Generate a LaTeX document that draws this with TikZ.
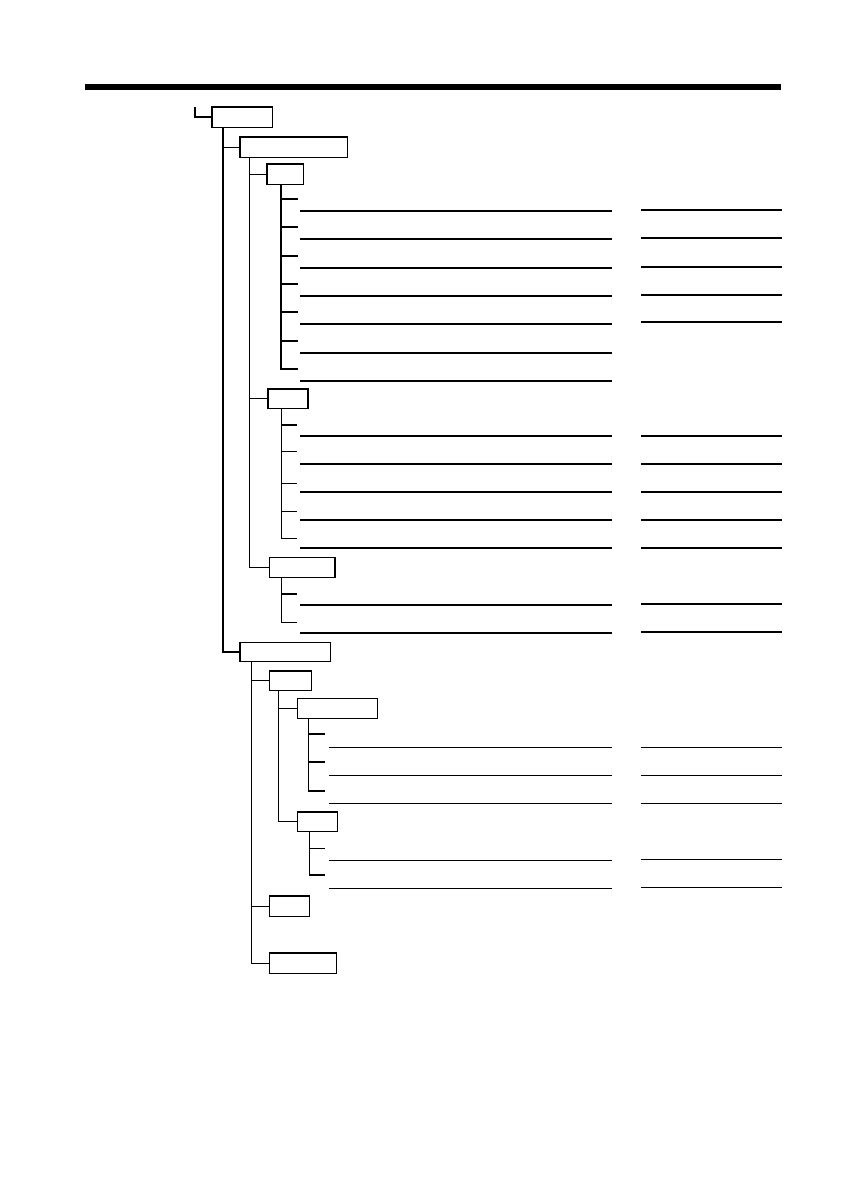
\documentclass[tikz,border=0pt]{standalone}
\usetikzlibrary{positioning}

\tikzset{
	tbox/.style={draw, line width=1.5pt, inner sep=0pt},
	tline/.style={line width=1.2pt}
}

\begin{document}
\begin{tikzpicture}[x=1pt, y=-1pt]
	\useasboundingbox (0,0) rectangle (841,1191);
	%%%	Barra
	\fill (85,84) rectangle (781,90);
	
	%%%	Caselle
	\node[tbox, minimum width=60.5pt, minimum height=20.5pt] (r)   at (242,117) {};
	\node[tbox, minimum width=107.5pt, minimum height=20.5pt] (a)  at (293.8,147.3) {};
	\node[tbox, minimum width=36.5pt, minimum height=20.5pt] (a1)  at (285.3,174.3) {};
	\node[tbox, minimum width=40pt, minimum height=19.5pt] (a2)    at (288,398.8) {};
	\node[tbox, minimum width=65.5pt, minimum height=20pt] (a3)    at (302.2,567.5) {};
	\node[tbox, minimum width=90.5pt, minimum height=19pt] (b)     at (285.3,652) {};
	\node[tbox, minimum width=42pt, minimum height=19.5pt] (b1)    at (290.5,680.8) {};
	\node[tbox, minimum width=80pt, minimum height=20pt] (b11)     at (337.5,708.5) {};
	\node[tbox, minimum width=40pt, minimum height=19.5pt] (b12)   at (317.5,821.8) {};
	\node[tbox, minimum width=40pt, minimum height=20.5pt] (b2)    at (289.5,906.3) {};
	\node[tbox, minimum width=67pt, minimum height=20.5pt] (b3)    at (303,963.3) {};
	
	%%%	Rami
	\coordinate (top) at (195,107);
	\draw[tline] (top) |- (r.west);
	% tronchi
	\coordinate (rt)  at ([xshift=12pt]r.south west);
	\coordinate (at)  at ([xshift=10pt]a.south west);
	\coordinate (bt)  at ([xshift=12.4pt]b.south west);
	\coordinate (b1t) at ([xshift=10pt]b1.south west);
	\draw[tline] (rt) |- (b.west);
	\draw[tline] (rt |- a.west) -- (a.west);
	\draw[tline] (at) |- (a3.west);
	\foreach \c in {a1, a2}
	\draw[tline] (at |- \c.west) -- (\c.west);
	\draw[tline] (bt) |- (b3.west);
	\foreach \c in {b1, b2}
	\draw[tline] (bt |- \c.west) -- (\c.west);
	\draw[tline] (b1t) |- (b12.west);
	\draw[tline] (b1t |- b11.west) -- (b11.west);
	
	%%%	Foglie
	% a1
	\coordinate (a1t) at ([xshift=14.7pt]a1.south west);
	\draw[tline] (a1t) |- (297.7,369);
	\foreach \y [count=\i] in {199,227,256,284,312,341,369} {
		\coordinate (a1l\i) at (297.7,\y);
		\draw[tline] (a1t |- a1l\i) -- (a1l\i);
		\draw[tline] (300,\y+12) -- (611.7,\y+12);
	}
	\foreach \y in {199,227,256,284,311}
	\draw[tline] (641,\y+11) -- (781.7,\y+11);
	
	% a2
	\coordinate (a2t) at ([xshift=14.4pt]a2.south west);
	\draw[tline] (a2t) |- (296.7,538.3);
	\foreach \y/\z [count=\i] in {425/436,451.7/464,483.3/492,511.7/520,538.3/548} {
		\coordinate (a2l\i) at (296.7,\y);
		\draw[tline] (a2t |- a2l\i) -- (a2l\i);
		\draw[tline] (300,\z) -- (611.7,\z);
		\draw[tline] (641,\z) -- (781.7,\z);
	}
	
	% a3
	\coordinate (a3t) at ([xshift=13pt]a3.south west);
	\draw[tline] (a3t) |- (296.7,622.3);
	\foreach \y/\z [count=\i] in {594/605,622.3/633} {
		\coordinate (a3l\i) at (296.7,\y);
		\draw[tline] (a3t |- a3l\i) -- (a3l\i);
		\draw[tline] (300,\z) -- (611.7,\z);
		\draw[tline] (641,\z-1) -- (781.7,\z-1);
	}
	
	% b11
	\coordinate (b11t) at ([xshift=12pt]b11.south west);
	\draw[tline] (b11t) |- (325,791);
	\foreach \y/\z [count=\i] in {734/747.3,762/775.3,791/803.3} {
		\coordinate (b11l\i) at (325,\y);
		\draw[tline] (b11t |- b11l\i) -- (b11l\i);
		\draw[tline] (329.3,\z) -- (611.7,\z);
		\draw[tline] (641,\z) -- (781.7,\z);
	}
	
	% b12
	\coordinate (b12t) at ([xshift=13pt]b12.south west);
	\draw[tline] (b12t) |- (325,875);
	\foreach \y/\z [count=\i] in {848.3/860.3,875/888.3} {
		\coordinate (b12l\i) at (325,\y);
		\draw[tline] (b12t |- b12l\i) -- (b12l\i);
		\draw[tline] (329.3,\z) -- (611.7,\z);
		\draw[tline] (641,\z-1) -- (781.7,\z-1);
	}
	
\end{tikzpicture}
\end{document}
